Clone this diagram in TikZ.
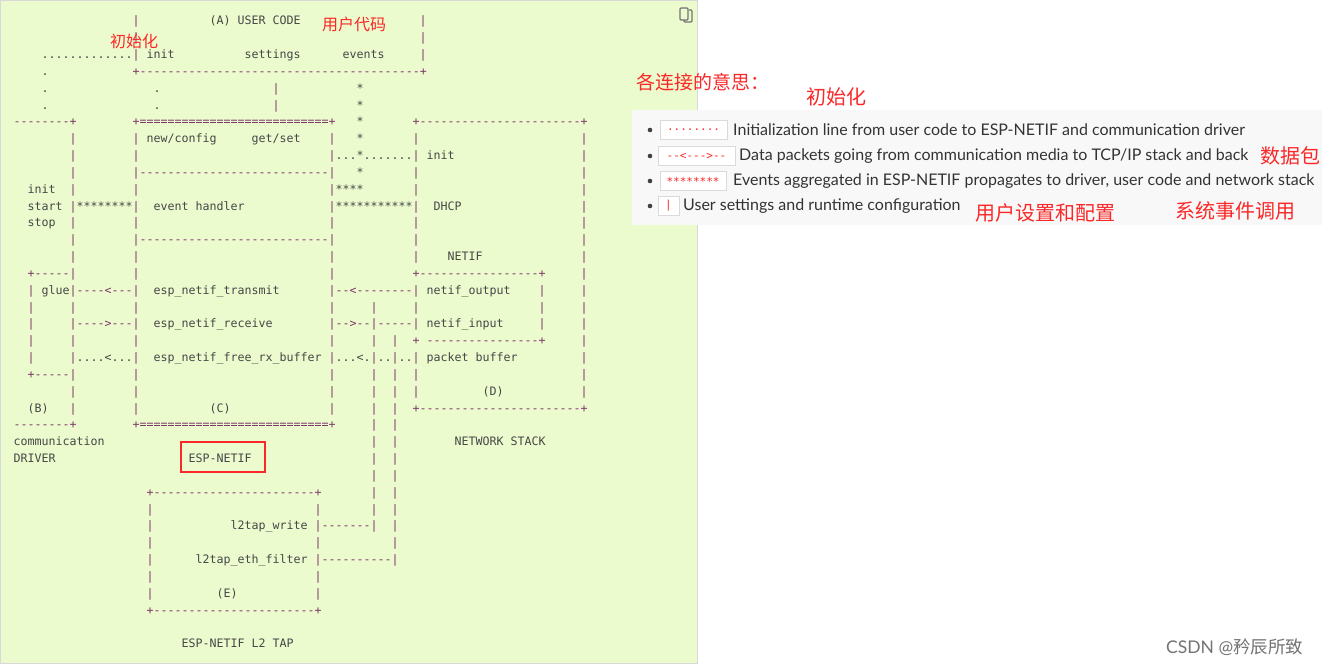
\documentclass[tikz,border=0pt]{standalone}
\usepackage{fontspec}
\setmainfont{Lato}
\newfontfamily\asciifont{DejaVu Sans Mono}
\newfontfamily\cjk{Noto Sans CJK SC}
\usetikzlibrary{calc}
\definecolor{pagegreen}{RGB}{236,251,206}
\definecolor{asciiline}{RGB}{125,55,105}
\definecolor{asciitext}{RGB}{70,70,70}
\definecolor{notered}{RGB}{250,40,40}
\definecolor{legendbg}{RGB}{248,248,248}
\definecolor{codeborder}{RGB}{218,218,218}

% one piece of the ascii block: [style]{row}{column}{text}
\newcommand\At[4][ascii]{\node[#1] at ({13.5+7*#3},{-(25+16.83*#2)}) {#4};}
\newcommand\Rep[2]{\foreach \i in {1,...,#1}{#2}}

\begin{document}
\begin{tikzpicture}[x=1pt,y=1pt,
    ascii/.style={anchor=base west, inner sep=0pt,
        font=\asciifont\fontsize{11.63}{14}\selectfont, text=asciitext},
    bar/.style={ascii, text=asciiline},
    note/.style={anchor=west, inner sep=0pt, text=notered, font=\cjk\fontsize{20}{23}\selectfont},
    code/.style={draw=codeborder, fill=white, inner sep=3pt, minimum height=19pt,
        text=notered, font=\asciifont\fontsize{11}{12}\selectfont},
    item/.style={anchor=west, inner sep=0pt, text=black!80, font=\fontsize{16}{18}\selectfont}]
    %% Background
    \useasboundingbox (0,0) rectangle (1332,-666);
    \fill[white] (0,0) rectangle (1332,-666);
    \filldraw[fill=pagegreen, draw=black!15] (0.5,-0.5) rectangle (697,-663);
    %% copy icon
    \draw[black!55, rounded corners=1pt, line width=1.2pt] (680,-8) rectangle (688,-20);
    \draw[black!55, rounded corners=1pt, line width=1.2pt] (684,-20) -- (684,-22) -- (692,-22) -- (692,-10) -- (689,-10);
    %% Vertical bars
    \foreach \c/\a/\b in {17/0/2, 58/0/2, 17/7/23, 8/7/23, 45/7/23, 81/7/22, 57/7/14,
        57/16/18, 57/20/22, 2/16/20, 75/16/18, 51/17/30, 54/19/32, 19/29/34, 43/29/34}
        \foreach \r in {\a,...,\b} \At[bar]{\r}{\c}{|};
    \At[bar]{4}{37}{|}
    \At[bar]{5}{37}{|}
    %% Horizontal lines
    \At[bar]{3}{17}{+\Rep{40}{-}+}
    \At[bar]{6}{0}{\Rep{8}{-}+}
    \At[bar]{6}{17}{+\Rep{27}{=}+}
    \At[bar]{6}{57}{+\Rep{23}{-}+}
    \At[bar]{9}{18}{\Rep{27}{-}}
    \At[bar]{13}{18}{\Rep{27}{-}}
    \At[bar]{15}{2}{+\Rep{5}{-}}
    \At[bar]{15}{57}{+\Rep{17}{-}+}
    \At[bar]{16}{9}{----<---}
    \At[bar]{16}{46}{--<--------}
    \At[bar]{18}{9}{---->---}
    \At[bar]{18}{46}{-->--}
    \At[bar]{18}{52}{-----}
    \At[bar]{19}{57}{+}
    \At[bar]{19}{59}{\Rep{16}{-}+}
    \At[bar]{21}{2}{+\Rep{5}{-}}
    \At[bar]{23}{57}{+\Rep{23}{-}+}
    \At[bar]{24}{0}{\Rep{8}{-}+}
    \At[bar]{24}{17}{+\Rep{27}{=}+}
    \At[bar]{28}{19}{+\Rep{23}{-}+}
    \At[bar]{35}{19}{+\Rep{23}{-}+}
    \At[bar]{30}{44}{\Rep{7}{-}}
    \At[bar]{32}{44}{\Rep{10}{-}}
    %% Texts and event / init lines
    \At{0}{28}{(A) USER CODE}
    \At{2}{4}{\Rep{13}{.}}
    \At{2}{19}{init}
    \At{2}{33}{settings}
    \At{2}{47}{events}
    \foreach \r in {3,4,5} \At{\r}{4}{.};
    \foreach \r in {4,5} \At{\r}{20}{.};
    \foreach \r in {4,5,6,7,9} \At{\r}{49}{*};
    \At{7}{19}{new/config}
    \At{7}{34}{get/set}
    \At{8}{46}{...*.......}
    \At{8}{59}{init}
    \At{10}{2}{init}
    \At{10}{46}{****}
    \At{11}{2}{start}
    \At{11}{9}{\Rep{8}{*}}
    \At{11}{20}{event handler}
    \At{11}{46}{\Rep{11}{*}}
    \At{11}{60}{DHCP}
    \At{12}{2}{stop}
    \At{14}{62}{NETIF}
    \At{16}{4}{glue}
    \At{16}{20}{esp\_netif\_transmit}
    \At{16}{59}{netif\_output}
    \At{18}{20}{esp\_netif\_receive}
    \At{18}{59}{netif\_input}
    \At{20}{9}{....<...}
    \At{20}{20}{esp\_netif\_free\_rx\_buffer}
    \At{20}{46}{...<.}
    \At{20}{52}{..}
    \At{20}{55}{..}
    \At{20}{59}{packet buffer}
    \At{22}{67}{(D)}
    \At{23}{2}{(B)}
    \At{23}{28}{(C)}
    \At{25}{0}{communication}
    \At{25}{63}{NETWORK STACK}
    \At{26}{0}{DRIVER}
    \At{26}{25}{ESP-NETIF}
    \At{30}{31}{l2tap\_write}
    \At{32}{26}{l2tap\_eth\_filter}
    \At{34}{29}{(E)}
    \At{37}{24}{ESP-NETIF L2 TAP}
    %% Marks
    \draw[notered, line width=2pt] (181,-442) rectangle (265,-472);
    \node[note, font=\cjk\fontsize{16}{19}\selectfont] (ucode) at (322,-24) {用户代码};
    \node[note, font=\cjk\fontsize{16}{19}\selectfont] (uinit) at (110,-41) {初始化};
    %% Legend
    \fill[legendbg] (632,-110) rectangle (1322,-225);
    \node[note, font=\cjk\fontsize{19}{22}\selectfont] (title) at (636,-82) {各连接的意思：};
    \node[note] (linit) at (806,-97) {初始化};
    \foreach \y in {130,156,181,206} \fill[black!75] (650,-\y) circle (2.3);
    \node[code, minimum width=67pt] (c1) at (693.5,-130) {........};
    \node[code, minimum width=77pt] (c2) at (696.5,-156) {--<--->--};
    \node[code, minimum width=66pt] (c3) at (693,-181) {********};
    \node[code, minimum width=21pt] (c4) at (668.5,-206) {|};
    \node[item] (t1) at (733,-130) {Initialization line from user code to ESP-NETIF and communication driver};
    \node[item] (t2) at (739,-156) {Data packets going from communication media to TCP/IP stack and back};
    \node[item] (t3) at (733,-181) {Events aggregated in ESP-NETIF propagates to driver, user code and network stack};
    \node[item] (t4) at (683,-206) {User settings and runtime configuration};
    \node[note] (lpkt) at (1260,-156) {数据包};
    \node[note] (lset) at (975,-213) {用户设置和配置};
    \node[note] (levt) at (1175,-211) {系统事件调用};
    \node[anchor=west, inner sep=0pt, text=black!55, font=\fontsize{17.5}{20}\selectfont] (mark) at (1166,-647)
        {CSDN @{\cjk 矜辰所致}};
\end{tikzpicture}
\end{document}
